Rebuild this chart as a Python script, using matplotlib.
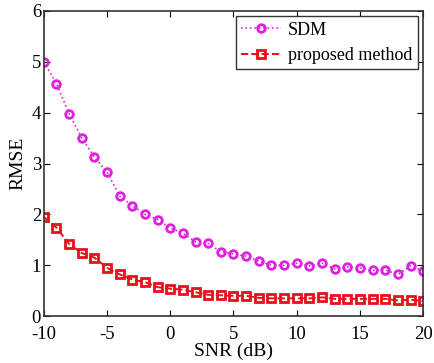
import numpy as np
import matplotlib.pyplot as plt

plt.rcParams['font.family'] = ['Liberation Serif', 'DejaVu Serif']
plt.rcParams['axes.unicode_minus'] = False

snr = np.arange(-10, 21)
rmse_sdm = [5.0, 4.57, 3.98, 3.5, 3.13, 2.83, 2.36, 2.17, 2.0, 1.9, 1.73,
            1.63, 1.46, 1.43, 1.27, 1.22, 1.18, 1.08, 1.0, 1.0, 1.04,
            0.99, 1.04, 0.93, 0.97, 0.95, 0.9, 0.91, 0.82, 0.99, 0.89]
rmse_prop = [1.95, 1.74, 1.42, 1.24, 1.15, 0.95, 0.82, 0.72, 0.67, 0.57, 0.54,
             0.52, 0.47, 0.42, 0.41, 0.40, 0.40, 0.36, 0.35, 0.35, 0.35,
             0.35, 0.37, 0.34, 0.34, 0.34, 0.34, 0.34, 0.31, 0.32, 0.30]

fig = plt.figure(figsize=(4.34, 3.63), dpi=100)
ax = fig.add_axes([0.101, 0.129, 0.874, 0.841])

ax.plot(snr, rmse_sdm, ':', color='#e020e0', marker='o', markersize=5.5,
        markerfacecolor='none', markeredgewidth=2, lw=1.2, label='SDM')
ax.plot(snr, rmse_prop, '--', color='#e8101a', marker='s', markersize=5.5,
        markerfacecolor='none', markeredgewidth=2, lw=1.4, label='proposed method')

ax.set_xlim(-10, 20)
ax.set_ylim(0, 6)
ax.set_xticks([-10, -5, 0, 5, 10, 15, 20])
ax.set_yticks(range(7))
ax.tick_params(direction='in', top=True, right=True, labelsize=13.5, length=4)
ax.tick_params(axis='y', pad=2)
ax.tick_params(axis='x', pad=7)
for s in ax.spines.values():
    s.set_linewidth(1.2)
    s.set_color('#333333')

ax.set_xlabel('SNR (dB)', fontsize=14, labelpad=0)
ax.set_ylabel('RMSE', fontsize=14, labelpad=4)

leg = ax.legend(loc='upper right', fontsize=13, fancybox=False, framealpha=1,
                edgecolor='#333333', borderaxespad=0.3, handlelength=2.2,
                handletextpad=0.4, labelspacing=0.45, borderpad=0.3)
leg.get_frame().set_linewidth(1.0)

fig.savefig('out.png', dpi=100)
